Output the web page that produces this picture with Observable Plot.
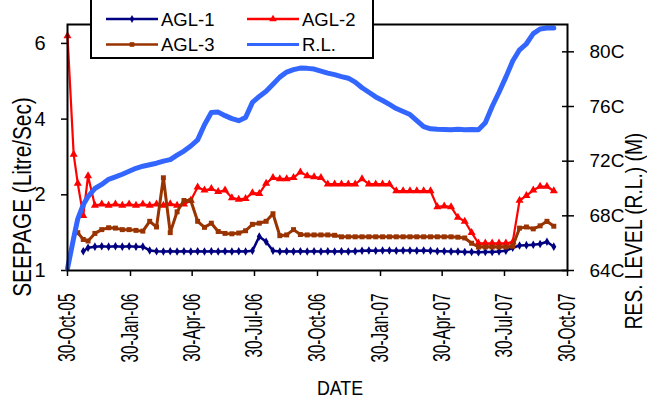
<!DOCTYPE html>
<html><head><meta charset="utf-8">
<script src="https://cdn.jsdelivr.net/npm/d3@7"></script>
<script src="https://cdn.jsdelivr.net/npm/@observablehq/plot@0.6"></script>
<style>
html,body{margin:0;padding:0;background:#fff;}
#wrap{position:relative;width:647px;height:400px;overflow:hidden;font-family:Arial,"Liberation Sans",sans-serif;}
</style></head><body><div id="wrap"></div>
<script>
const seriesNames = ["AGL-1", "AGL-2", "AGL-3", "R.L."];
const seriesColors = ["#000080", "#ff0000", "#993300", "#3366ff"];

const dates = ["2005-10-30","2005-11-08","2005-11-14","2005-11-22","2005-11-29","2005-12-09","2005-12-19","2005-12-29",
"2006-01-08","2006-01-18","2006-01-28","2006-02-07","2006-02-17","2006-02-27","2006-03-09","2006-03-19","2006-03-29",
"2006-04-08","2006-04-18","2006-04-28","2006-05-08","2006-05-18","2006-05-28","2006-06-07","2006-06-17","2006-06-27",
"2006-07-07","2006-07-17","2006-07-27","2006-08-06","2006-08-16","2006-08-26","2006-09-05","2006-09-15","2006-09-25",
"2006-10-05","2006-10-15","2006-10-25","2006-11-04","2006-11-14","2006-11-24","2006-12-04","2006-12-14","2006-12-24",
"2007-01-03","2007-01-13","2007-01-23","2007-02-02","2007-02-12","2007-02-22","2007-03-04","2007-03-14","2007-03-24",
"2007-04-03","2007-04-13","2007-04-23","2007-05-03","2007-05-13","2007-05-23","2007-06-02","2007-06-12","2007-06-22",
"2007-07-02","2007-07-12","2007-07-22","2007-08-01","2007-08-11","2007-08-21","2007-08-31","2007-09-10","2007-09-20",
"2007-09-30","2007-10-10"];

const agl1 = [null,null,null,0.51,0.6,0.63,0.64,0.63,0.64,0.63,0.64,0.63,0.63,0.53,0.51,0.5,0.51,0.5,0.51,0.5,0.51,0.5,0.51,0.5,0.51,0.5,0.51,0.5,0.52,0.9,0.76,0.52,
0.5,0.51,0.5,0.51,0.5,0.51,0.5,0.51,0.5,0.51,0.5,0.51,0.52,0.53,0.52,0.53,0.53,0.52,0.53,0.53,0.52,0.53,0.52,0.51,
0.51,0.5,0.5,0.49,0.49,0.48,0.49,0.49,0.5,0.52,0.6,0.66,0.67,0.68,0.7,0.76,0.63];

const agl2 = [6.2,3.07,2.3,1.45,2.5,1.72,1.75,1.72,1.75,1.72,1.75,1.72,1.75,1.72,1.75,1.72,1.76,1.72,1.75,1.85,2.2,2.12,2.16,2.08,2.12,1.92,1.88,1.9,2.05,2.03,2.3,2.45,
2.42,2.42,2.45,2.6,2.5,2.47,2.45,2.28,2.28,2.28,2.28,2.28,2.42,2.28,2.28,2.28,2.28,2.1,2.1,2.1,2.1,2.1,2.1,1.68,
1.7,1.68,1.4,1.3,1.0,0.72,0.72,0.72,0.72,0.72,0.75,1.85,1.98,2.12,2.22,2.22,2.1];

const agl3 = [null,null,1.0,0.82,0.78,0.98,1.08,1.13,1.12,1.08,1.08,1.06,1.04,1.3,1.15,2.45,1.0,1.55,1.85,1.85,1.3,1.14,1.25,1.03,0.98,0.97,0.99,1.05,1.22,1.25,1.3,1.5,
0.92,0.94,1.08,0.95,0.94,0.94,0.94,0.94,0.93,0.89,0.89,0.89,0.89,0.89,0.89,0.89,0.89,0.89,0.89,0.89,0.89,0.89,0.89,0.89,
0.89,0.89,0.88,0.86,0.72,0.62,0.62,0.62,0.62,0.62,0.64,1.12,1.15,1.1,1.18,1.3,1.17];

const rl = [641.5,663.7,677.8,688.1,694.1,700,703,706.7,708.5,710.4,712.6,714.8,716.3,717.4,718.5,720,721.1,724.4,727.4,731.1,735.6,746.7,755.6,755.9,753.3,751.1,749.6,751.9,763,767.4,771.1,776.3,
781.5,785.2,787,788.1,787.9,787.4,785.9,784.4,783.3,781.9,780.7,777.8,773.7,770.4,767,764.4,761.5,758.5,756.3,754.1,749.6,745.2,743.7,743.3,
743.2,743,743.3,743,743.2,743,748.1,760,770.4,781.5,793.3,801.5,805.9,813.3,816.7,817.4,817.4];

const xDomain = ["2005-10-30", "2007-10-30"];
const xTicks = ["2005-10-30","2006-01-30","2006-04-30","2006-07-30","2006-10-30","2007-01-30","2007-04-30","2007-07-30","2007-10-30"];
const xTickLabels = ["30-Oct-05","30-Jan-06","30-Apr-06","30-Jul-06","30-Oct-06","30-Jan-07","30-Apr-07","30-Jul-07","30-Oct-07"];
const seepDomain = [0, 6.5];
const seepTicks = [0, 2, 4, 6];
const seepTickLabels = ["1", "2", "4", "6"];
const rlDomain = [640, 820];
const rlTicks = [640, 680, 720, 760, 800];
const rlTickLabels = ["64C", "68C", "72C", "76C", "80C"];
const yLabel = "SEEPAGE (Litre/Sec)";
const y2Label = "RES. LEVEL (R.L.) (M)";
const xLabel = "DATE";

const parse = d3.utcParse("%Y-%m-%d");
const rows = dates.map((d, i) => ({date: parse(d), agl1: agl1[i], agl2: agl2[i], agl3: agl3[i], rl: rl[i]}));
const rlToSeep = d3.scaleLinear().domain(rlDomain).range(seepDomain);
const rlTickPos = rlTicks.map(rlToSeep);
const xTickDates = xTicks.map(parse);

const s1 = rows.filter(d => d.agl1 != null);
const s2 = rows.filter(d => d.agl2 != null);
const s3 = rows.filter(d => d.agl3 != null);
const s4 = rows.filter(d => d.rl != null);

const chart = Plot.plot({
  width: 647, height: 400,
  marginLeft: 67, marginRight: 80, marginTop: 24, marginBottom: 130,
  style: {fontFamily: "Arial, 'Liberation Sans', sans-serif", background: "white", color: "black"},
  x: {type: "utc", domain: xDomain.map(parse)},
  y: {domain: seepDomain},
  marks: [
    Plot.axisX(xTickDates, {tickFormat: d => xTickLabels[xTickDates.findIndex(t => +t === +d)], tickRotate: -90,
      tickSize: 6, tickPadding: 17, fontSize: 24, label: null, strokeWidth: 1.5}),
    Plot.axisY(seepTicks, {tickFormat: d => seepTickLabels[seepTicks.indexOf(d)], tickSize: 6, tickPadding: 16,
      fontSize: 20, label: null, strokeWidth: 1.5}),
    Plot.axisY(rlTickPos, {anchor: "right", tickSize: 12, dx: -6, tickFormat: () => "", label: null, strokeWidth: 1.5}),
    Plot.axisY(rlTickPos, {anchor: "right", tickSize: 0, tickPadding: 22, fontSize: 19, label: null,
      tickFormat: d => rlTickLabels[rlTickPos.indexOf(d)]}),
    Plot.line(s1, {x: "date", y: "agl1", stroke: seriesColors[0], strokeWidth: 2.5}),
    Plot.dot(s1, {x: "date", y: "agl1", symbol: "diamond", r: 2.6, fill: seriesColors[0], stroke: "none"}),
    Plot.line(s2, {x: "date", y: "agl2", stroke: seriesColors[1], strokeWidth: 2.2}),
    Plot.dot(s2, {x: "date", y: "agl2", symbol: "triangle", r: 3, fill: seriesColors[1], stroke: "none"}),
    Plot.line(s3, {x: "date", y: "agl3", stroke: seriesColors[2], strokeWidth: 3}),
    Plot.dot(s3, {x: "date", y: "agl3", symbol: "square", r: 2.8, fill: seriesColors[2], stroke: "none"}),
    Plot.line(s4, {x: "date", y: d => rlToSeep(d.rl), stroke: seriesColors[3], strokeWidth: 5}),
    Plot.frame({stroke: "black", strokeWidth: 2})
  ]
});
document.getElementById("wrap").appendChild(chart);

const svg = d3.select(chart);
// condensed rotated x tick labels
svg.selectAll('g[aria-label="x-axis tick label"] text').each(function() {
  const t = this.getAttribute("transform") || "";
  this.setAttribute("transform", t + " scale(0.64,1)");
});

// axis titles
svg.append("text").text(yLabel)
  .attr("transform", "translate(22,197) rotate(-90) scale(0.8,1)")
  .attr("text-anchor", "middle").attr("dominant-baseline", "central")
  .attr("font-size", 26).attr("fill", "black");
svg.append("text").text(y2Label)
  .attr("transform", "translate(634,231) rotate(-90) scale(0.8,1)")
  .attr("text-anchor", "middle").attr("dominant-baseline", "central")
  .attr("font-size", 24).attr("fill", "black");
svg.append("text").text(xLabel)
  .attr("transform", "translate(340,395) scale(0.85,1)")
  .attr("text-anchor", "middle")
  .attr("font-size", 21).attr("fill", "black");

// legend
const lg = d3.select("#wrap").append("svg")
  .attr("width", 285).attr("height", 62)
  .style("position", "absolute").style("left", "90px").style("top", "-3px")
  .attr("font-family", "Arial, 'Liberation Sans', sans-serif");
lg.append("rect").attr("x", 1).attr("y", 0).attr("width", 282).attr("height", 61).attr("fill", "white");
lg.append("path").attr("d", "M1,0V61H283V0").attr("fill", "none").attr("stroke", "black").attr("stroke-width", 2);
const symbols = [d3.symbolDiamond, d3.symbolTriangle, d3.symbolSquare, null];
const symSize = [Math.PI * 2.4 * 2.4, Math.PI * 2.8 * 2.8, Math.PI * 2.6 * 2.6, 0];
const pos = [[16, 22], [157, 22], [16, 47.5], [157, 47.5]];
seriesNames.forEach((name, i) => {
  const [x, y] = pos[i];
  lg.append("line").attr("x1", x).attr("x2", x + 52).attr("y1", y).attr("y2", y)
    .attr("stroke", seriesColors[i]).attr("stroke-width", i === 3 ? 3 : 2.5);
  if (symbols[i]) {
    lg.append("path").attr("d", d3.symbol(symbols[i], symSize[i])())
      .attr("transform", `translate(${x + 26},${y})`).attr("fill", seriesColors[i]);
  }
  lg.append("text").text(name).attr("x", x + 55).attr("y", y + 6.5)
    .attr("font-size", 18.5).attr("fill", "black");
});
</script></body></html>
